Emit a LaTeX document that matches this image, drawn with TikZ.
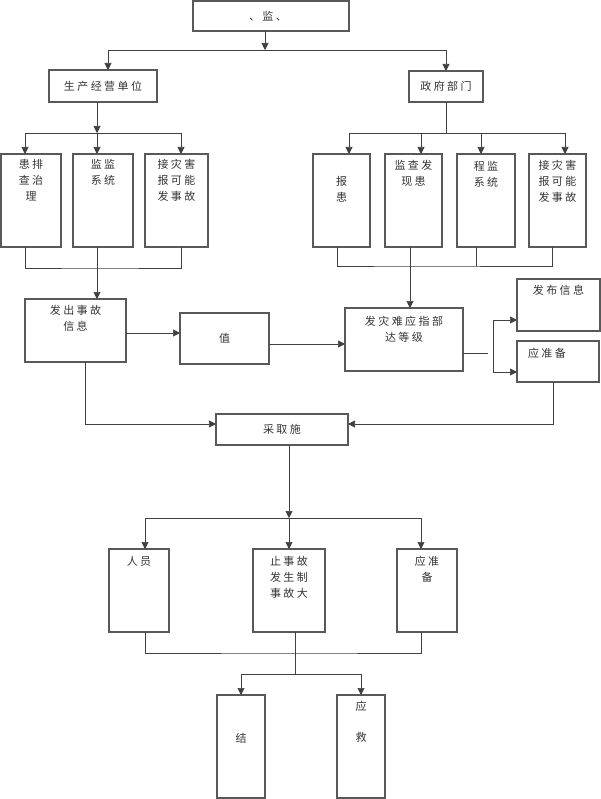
\documentclass[tikz,border=0pt]{standalone}
\usepackage{fontspec}
\newfontfamily\cjk[LetterSpace=22]{Noto Sans CJK SC}
\usetikzlibrary{arrows.meta,positioning}

\begin{document}
\begin{tikzpicture}[x=1pt,y=-1pt,
  blk/.style={draw=black!65, line width=1.3pt, inner sep=0pt, outer sep=0pt},
  txt/.style={font=\cjk\fontsize{11}{16}\selectfont, text=black!80, align=center, inner sep=0pt},
  conn/.style={draw=black!75, line width=0.6pt},
  arr/.style={conn, -{Triangle[width=7pt,length=7pt]}}]
\useasboundingbox (0,0) rectangle (601,799);

\node[blk, minimum width=156pt, minimum height=30pt] (top) at (271,16) {};
\node[blk, minimum width=108pt, minimum height=32pt] (prod) at (103,86) {};
\node[blk, minimum width=74pt, minimum height=31pt] (gov) at (446,86.5) {};

\node[blk, minimum width=60pt, minimum height=93pt] (L1) at (31,200.5) {};
\node[blk, minimum width=60pt, minimum height=93pt] (L2) at (103,200.5) {};
\node[blk, minimum width=63pt, minimum height=93pt] (L3) at (176.5,200.5) {};

\node[blk, minimum width=57pt, minimum height=93pt] (G1) at (341.5,200.5) {};
\node[blk, minimum width=57pt, minimum height=93pt] (G2) at (413.5,200.5) {};
\node[blk, minimum width=58pt, minimum height=93pt] (G3) at (486,200.5) {};
\node[blk, minimum width=57pt, minimum height=93pt] (G4) at (557.5,200.5) {};

\node[blk, minimum width=101pt, minimum height=63pt] (emit) at (75.5,330.5) {};
\node[blk, minimum width=89pt, minimum height=51pt] (val) at (224.5,338.5) {};
\node[blk, minimum width=118pt, minimum height=63pt] (cmd) at (404,339.5) {};
\node[blk, minimum width=83pt, minimum height=52pt] (pub) at (558.5,305) {};
\node[blk, minimum width=82pt, minimum height=41pt] (prep) at (558,361.5) {};
\node[blk, minimum width=132pt, minimum height=31pt] (act) at (282,429.5) {};

\node[blk, minimum width=60pt, minimum height=83pt] (ppl) at (139,590.5) {};
\node[blk, minimum width=72pt, minimum height=83pt] (ctl) at (289,590.5) {};
\node[blk, minimum width=60pt, minimum height=83pt] (prep2) at (427,590.5) {};
\node[blk, minimum width=48pt, minimum height=103pt] (end) at (241,746.5) {};
\node[blk, minimum width=48pt, minimum height=103pt] (resc) at (361,746.5) {};

\node[txt] (ttop) at (268,16) {、监、};
\node[txt] (tprod) at (prod.center) {生产经营单位};
\node[txt] (tgov) at (gov.center) {政府部门};
\node[txt, below=5pt of L1.north] (tL1) {患排\\查治\\理};
\node[txt, below=5pt of L2.north] (tL2) {监监\\系统};
\node[txt, below=5pt of L3.north] (tL3) {接灾害\\报可能\\发事故};
\node[txt, below=22pt of G1.north] (tG1) {报\\患};
\node[txt, below=6pt of G2.north] (tG2) {监查发\\现患};
\node[txt, below=7pt of G3.north] (tG3) {程监\\系统};
\node[txt, below=6pt of G4.north] (tG4) {接灾害\\报可能\\发事故};
\node[txt, below=6pt of emit.north] (temit) {发出事故\\信息};
\node[txt] (tval) at (val.center) {值};
\node[txt, below=8pt of cmd.north] (tcmd) {发灾难应指部\\达等级};
\node[txt, below=6pt of pub.north] (tpub) {发布信息};
\node[txt, below=7pt of prep.north, xshift=-11pt] (tprep) {应准备};
\node[txt] (tact) at (act.center) {采取施};
\node[txt, below=7pt of ppl.north] (tppl) {人员};
\node[txt, below=7pt of ctl.north] (tctl) {止事故\\发生制\\事故大};
\node[txt, below=7pt of prep2.north] (tprep2) {应准\\备};
\node[txt] (tend) at (241,738) {结};
\node[txt, below=6pt of resc.north] (tresc) {应\\[15pt]救};

\coordinate (j0) at (265,50);
\coordinate (j1) at (97,133);
\coordinate (j2) at (97,268);
\coordinate (j3) at (446,133);
\coordinate (j4) at (410,266);
\coordinate (j5) at (493,353);
\coordinate (j6) at (289,518);
\coordinate (j7) at (295,653);
\coordinate (j8) at (295,674);

\draw[arr] (top.south -| j0) -- (j0);
\draw[arr] (j0) -| (prod.north -| 108,0);
\draw[arr] (j0) -| (gov.north);

\draw[arr] (prod.south -| j1) -- (j1);
\draw[arr] (j1) -| (L1.north -| 25,0);
\draw[arr] (j1) -- (L2.north -| j1);
\draw[arr] (j1) -| (L3.north -| 181,0);
\draw[conn] (L1.south -| 25,0) |- (j2) -| (L3.south -| 181,0);
\draw[conn] (L2.south -| j2) -- (j2);
\draw[arr] (j2) -- (emit.north -| j2);

\draw[conn] (gov.south) -- (j3);
\draw[arr] (j3) -| (G1.north -| 349,0);
\draw[arr] (j3) -| (G2.north -| 421,0);
\draw[arr] (j3) -| (G3.north -| 481,0);
\draw[arr] (j3) -| (G4.north -| 565,0);
\draw[conn] (G1.south -| 337,0) |- (j4) -| (G4.south -| 552,0);
\draw[conn] (G2.south -| j4) -- (j4);
\draw[conn] (G3.south -| 476,0) -- (476,266);
\draw[arr] (j4) -- (cmd.north -| j4);

\draw[arr] (emit.east |- 0,333) -- (val.west |- 0,333);
\draw[arr] (val.east |- 0,344) -- (cmd.west |- 0,344);
\draw[conn] (cmd.east |- j5) -- ++(25,0);
\draw[arr] (j5) |- (pub.west |- 0,320);
\draw[arr] (j5) |- (prep.west |- 0,372);

\draw[arr] (emit.south -| 85,0) |- (act.west |- 0,424);
\draw[arr] (prep.south -| 553,0) |- (act.east |- 0,424);

\draw[arr] (act.south -| j6) -- (j6);
\draw[arr] (j6) -| (ppl.north -| 145,0);
\draw[arr] (j6) -- (ctl.north -| j6);
\draw[arr] (j6) -| (prep2.north -| 421,0);
\draw[conn] (ppl.south -| 145,0) |- (j7) -| (prep2.south -| 421,0);
\draw[conn] (ctl.south -| j7) -- (j8);
\draw[arr] (j8) -| (end.north);
\draw[arr] (j8) -| (resc.north);
\end{tikzpicture}
\end{document}
